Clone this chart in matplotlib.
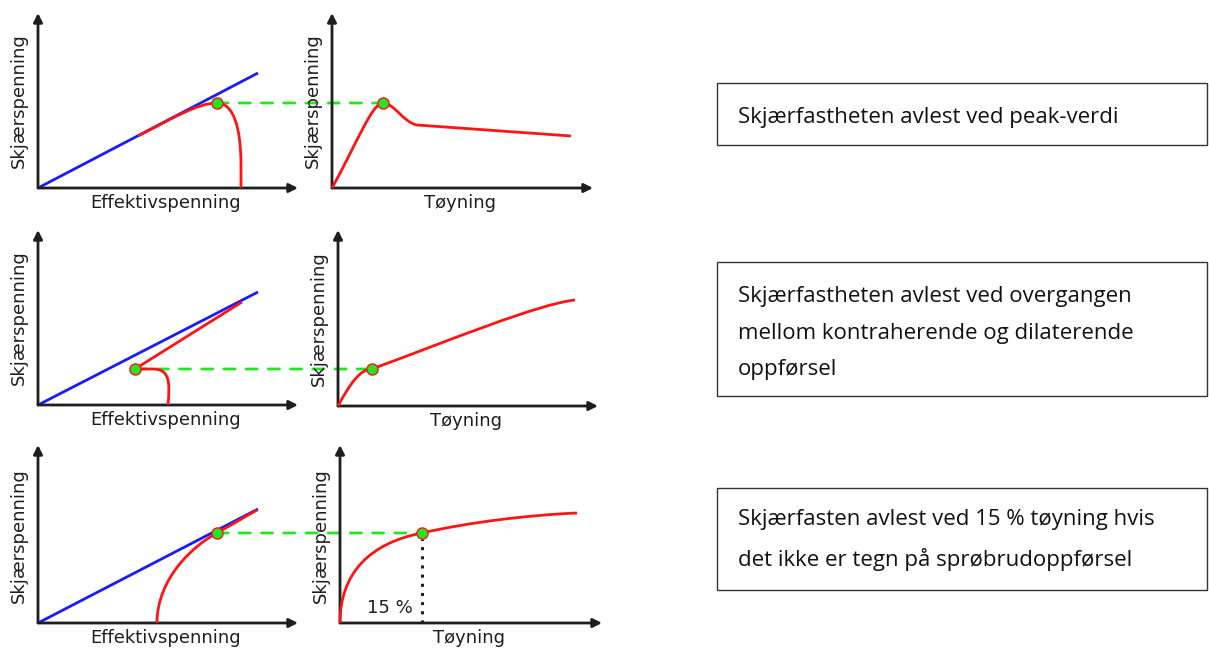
import matplotlib.pyplot as plt
import numpy as np
from matplotlib.path import Path
from matplotlib.patches import PathPatch, Rectangle, ConnectionPatch

W, H = 1209, 648
RED, BLUE, GREEN, INK = "#ff1414", "#1a1aff", "#22e622", "#1e1e1e"

# panel frames in pixels: origin (x, y) and axis length (dx, dy)
panel_origin = [(38, 188), (332, 188), (38, 405), (338, 406), (38, 623), (340, 623)]
panel_size = [(260, 175), (261, 175), (260, 175), (260, 176), (260, 178), (262, 178)]
xlabels = ["Effektivspenning", "Tøyning"] * 3
ylabel = "Skjærspenning"

# failure envelope (blue) in each stress-path panel
envelopes = [np.array([[0, 0], [220, 115]]),
             np.array([[0, 0], [220, 113]]),
             np.array([[0, 0], [220, 114]])]

# red curves as bezier control points (MOVETO + CURVE4 / LINETO codes)
M, C, L = Path.MOVETO, Path.CURVE4, Path.LINETO
curve_pts = [
    [(100, 52), (135, 70), (160, 85), (179, 85), (195, 85), (203, 62), (203, 22), (203, 0)],
    [(0, 0), (25, 45), (40, 85), (51, 85), (62, 85), (72, 65), (85, 63), (239, 52)],
    [(130, 0), (132, 22), (132, 36), (115, 36), (97, 36), (204, 103)],
    [(0, 0), (12, 22), (22, 37), (34, 37), (110, 65), (200, 102), (237, 106)],
    [(119, 0), (119, 45), (156, 78), (179, 90), (219, 113)],
    [(0, 0), (0, 50), (30, 80), (82, 90), (130, 101), (190, 108), (237, 110)],
]
curve_codes = [
    [M, C, C, C, C, C, C, L],
    [M, C, C, C, C, C, C, L],
    [M, C, C, C, L, L],
    [M, C, C, C, C, C, C],
    [M, C, C, C, L],
    [M, C, C, C, C, C, C],
]
# read-off points (green dots)
dots = [(179, 85), (51, 85), (97, 36), (34, 37), (179, 90), (82, 90)]

box_rows = [(83, 145), (262, 396), (488, 590)]
box_text_mid = [117, 333, 540]
box_texts = [
    "Skjærfastheten avlest ved peak-verdi",
    "Skjærfastheten avlest ved overgangen\nmellom kontraherende og dilaterende\noppførsel",
    "Skjærfasten avlest ved 15 % tøyning hvis\ndet ikke er tegn på sprøbrudoppførsel",
]

fig = plt.figure(figsize=(W / 100, H / 100), dpi=100)
axes = []
for i, ((ox, oy), (dx, dy)) in enumerate(zip(panel_origin, panel_size)):
    ax = fig.add_axes([ox / W, (H - oy) / H, dx / W, dy / H])
    ax.set_xlim(0, dx)
    ax.set_ylim(0, dy)
    ax.axis("off")
    ax.patch.set_visible(False)
    for end in [(dx, 0), (0, dy)]:
        ax.annotate("", xy=end, xytext=(0, 0), annotation_clip=False,
                    arrowprops=dict(arrowstyle="-|>", lw=2, color=INK,
                                    mutation_scale=13, shrinkA=0, shrinkB=0))
    ax.text(dx / 2 - 2, -15, xlabels[i], ha="center", va="center",
            fontsize=13, color=INK, clip_on=False)
    ax.text(-19, 87, ylabel, ha="center", va="center", rotation=90,
            fontsize=13, color=INK, clip_on=False)
    if i % 2 == 0:
        env = envelopes[i // 2]
        ax.plot(env[:, 0], env[:, 1], color=BLUE, lw=2, zorder=2,
                solid_capstyle="butt", clip_on=False)
    ax.add_patch(PathPatch(Path(curve_pts[i], curve_codes[i]), fill=False,
                           edgecolor=RED, lw=2, zorder=3, clip_on=False))
    axes.append(ax)

for row in range(3):
    a, b = axes[2 * row], axes[2 * row + 1]
    con = ConnectionPatch(xyA=dots[2 * row], coordsA=a.transData,
                          xyB=dots[2 * row + 1], coordsB=b.transData,
                          color=GREEN, lw=2, linestyle=(0, (4, 4)), zorder=1)
    con.set_clip_on(False)
    a.add_artist(con)

for i, ax in enumerate(axes):
    ax.plot(*dots[i], "o", ms=8, mfc=GREEN, mec=RED, mew=1, zorder=5, clip_on=False)

# 15 % strain marker
ax6 = axes[5]
ax6.plot([dots[5][0]] * 2, [0, dots[5][1] - 6], color=INK, lw=2.2,
         linestyle=(0, (1, 2)), zorder=2)
ax6.text(50, 15, "15 %", ha="center", va="center", fontsize=13, color=INK)

for (top, bottom), mid, txt in zip(box_rows, box_text_mid, box_texts):
    fig.add_artist(Rectangle((717 / W, (H - bottom) / H), 490 / W, (bottom - top) / H,
                             transform=fig.transFigure, fill=False,
                             edgecolor="#333333", lw=1))
    fig.text(738 / W, (H - mid) / H, txt, ha="left", va="center",
             fontsize=16, family="Open Sans", color="#111111", linespacing=1.95)

fig.savefig("out.png", dpi=100)
